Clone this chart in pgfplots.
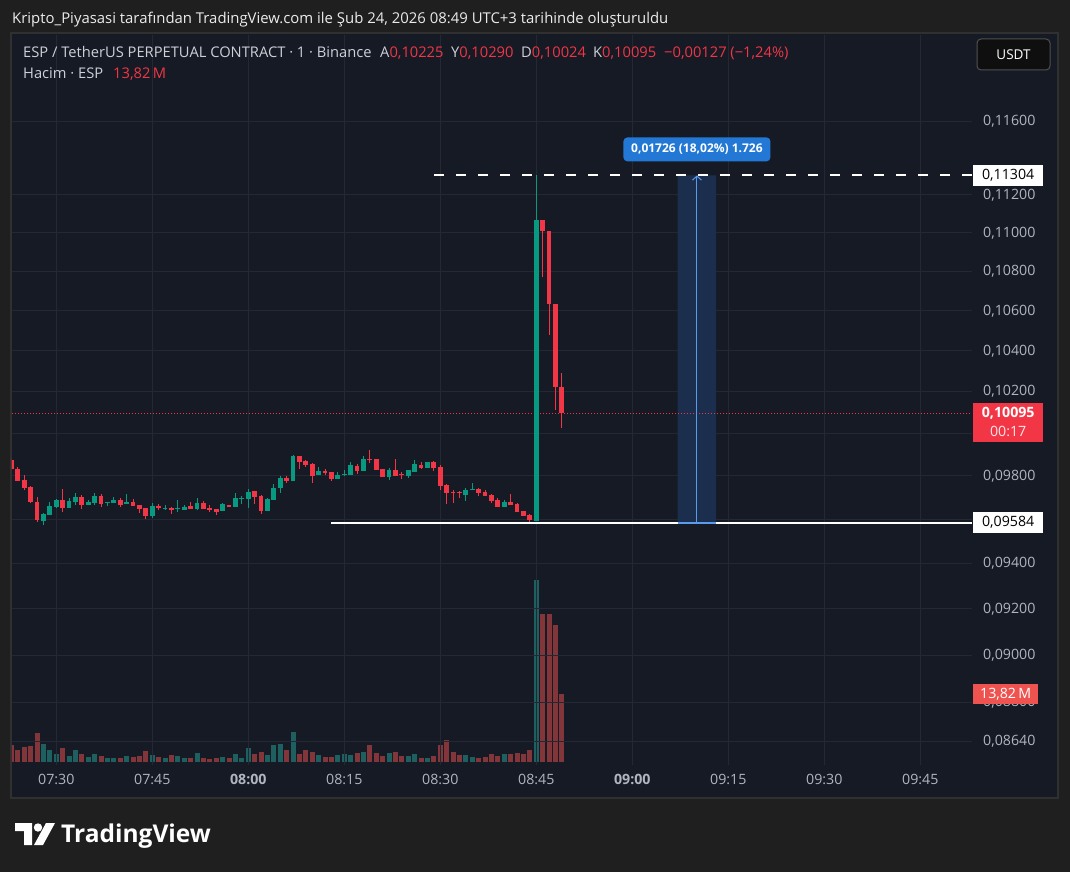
\documentclass[border=0pt]{standalone}
\usepackage{fontspec}
\setmainfont{Open Sans}
\usepackage{pgfplots}
\usepackage{pgfplotstable}
\pgfplotsset{compat=1.18}
\usetikzlibrary{arrows.meta}

\definecolor{outerbg}{RGB}{31,31,31}
\definecolor{panelbg}{RGB}{22,26,37}
\definecolor{panelborder}{RGB}{48,48,48}
\definecolor{gridc}{RGB}{36,40,52}
\definecolor{tvtext}{RGB}{178,181,190}
\definecolor{legtext}{RGB}{205,208,215}
\definecolor{tvred}{RGB}{242,54,69}
\definecolor{tvgreen}{RGB}{8,153,129}
\definecolor{volgreen}{RGB}{30,96,95}
\definecolor{volred}{RGB}{130,54,58}
\definecolor{volbox}{RGB}{239,83,80}
\definecolor{measfill}{RGB}{28,46,78}
\definecolor{measline}{RGB}{90,155,235}
\definecolor{measlabel}{RGB}{34,120,212}
\definecolor{btnfill}{RGB}{15,15,15}
\definecolor{btnborder}{RGB}{80,80,80}

\def\fsz#1{\fontsize{#1pt}{#1pt}\selectfont}

% t = minutes after 07:30; O H L C price; V volume (M)
\pgfplotstableread{
t O H L C V
-7 0.09875 0.09885 0.09828 0.09833 3.45
-6 0.09833 0.09842 0.09777 0.09777 2.44
-5 0.09781 0.09805 0.09735 0.09744 3.05
-4 0.09749 0.09753 0.09674 0.09679 3.25
-3 0.09679 0.09702 0.09587 0.09596 5.89
-2 0.09591 0.09628 0.09573 0.09623 3.66
-1 0.09619 0.09679 0.09619 0.09660 2.44
0 0.09656 0.09693 0.09651 0.09688 1.63
1 0.09688 0.09739 0.09633 0.09651 2.84
2 0.09651 0.09697 0.09651 0.09684 1.22
3 0.09679 0.09721 0.09665 0.09702 2.44
4 0.09702 0.09711 0.09647 0.09665 1.63
5 0.09665 0.09688 0.09665 0.09679 1.02
6 0.09674 0.09721 0.09665 0.09707 1.63
7 0.09707 0.09716 0.09656 0.09670 1.22
8 0.09674 0.09679 0.09660 0.09679 0.81
9 0.09674 0.09702 0.09674 0.09688 0.81
10 0.09688 0.09697 0.09656 0.09665 0.81
11 0.09670 0.09716 0.09670 0.09679 1.22
12 0.09679 0.09693 0.09660 0.09660 1.02
13 0.09665 0.09665 0.09628 0.09647 1.22
14 0.09651 0.09651 0.09601 0.09614 2.24
15 0.09614 0.09674 0.09605 0.09660 1.42
16 0.09660 0.09670 0.09642 0.09651 1.02
17 0.09647 0.09665 0.09642 0.09651 0.81
18 0.09651 0.09656 0.09623 0.09642 1.42
19 0.09647 0.09688 0.09633 0.09651 1.22
20 0.09642 0.09665 0.09642 0.09656 0.81
21 0.09660 0.09679 0.09647 0.09647 0.81
22 0.09647 0.09697 0.09642 0.09674 1.83
23 0.09674 0.09684 0.09647 0.09647 0.81
24 0.09651 0.09665 0.09633 0.09642 0.61
25 0.09647 0.09647 0.09619 0.09633 0.81
26 0.09637 0.09674 0.09637 0.09670 1.02
27 0.09665 0.09665 0.09656 0.09656 0.81
28 0.09656 0.09721 0.09656 0.09697 1.63
29 0.09693 0.09707 0.09670 0.09697 0.81
30 0.09693 0.09739 0.09651 0.09725 2.84
31 0.09730 0.09730 0.09670 0.09702 1.63
32 0.09707 0.09711 0.09623 0.09637 2.03
33 0.09637 0.09697 0.09637 0.09693 1.42
34 0.09688 0.09763 0.09688 0.09744 3.45
35 0.09744 0.09800 0.09721 0.09791 3.66
36 0.09791 0.09800 0.09767 0.09777 2.44
37 0.09777 0.09899 0.09777 0.09894 6.10
38 0.09894 0.09894 0.09833 0.09866 1.63
39 0.09871 0.09875 0.09842 0.09852 2.44
40 0.09856 0.09861 0.09767 0.09800 2.03
41 0.09805 0.09842 0.09805 0.09824 1.42
42 0.09824 0.09833 0.09805 0.09814 1.02
43 0.09819 0.09819 0.09777 0.09786 1.02
44 0.09786 0.09819 0.09786 0.09805 1.42
45 0.09805 0.09828 0.09800 0.09809 1.63
46 0.09805 0.09866 0.09805 0.09852 1.42
47 0.09847 0.09856 0.09809 0.09824 1.83
48 0.09824 0.09894 0.09824 0.09880 2.03
49 0.09880 0.09923 0.09861 0.09875 3.45
50 0.09880 0.09880 0.09828 0.09828 1.83
51 0.09833 0.09833 0.09795 0.09795 1.22
52 0.09795 0.09838 0.09781 0.09828 1.83
53 0.09828 0.09880 0.09800 0.09800 2.03
54 0.09809 0.09819 0.09786 0.09805 1.22
55 0.09800 0.09828 0.09791 0.09828 1.22
56 0.09819 0.09875 0.09819 0.09856 1.63
57 0.09852 0.09866 0.09833 0.09838 0.81
58 0.09838 0.09866 0.09838 0.09866 0.81
59 0.09866 0.09871 0.09824 0.09838 1.22
60 0.09842 0.09852 0.09735 0.09753 3.45
61 0.09758 0.09763 0.09670 0.09721 4.47
62 0.09725 0.09735 0.09674 0.09721 2.03
63 0.09725 0.09730 0.09697 0.09721 1.42
64 0.09711 0.09744 0.09684 0.09735 1.42
65 0.09735 0.09767 0.09735 0.09739 1.02
66 0.09739 0.09744 0.09707 0.09721 0.81
67 0.09725 0.09735 0.09707 0.09707 1.02
68 0.09711 0.09716 0.09674 0.09684 1.63
69 0.09688 0.09697 0.09656 0.09656 1.22
70 0.09656 0.09688 0.09656 0.09679 1.63
71 0.09679 0.09716 0.09665 0.09665 1.63
72 0.09670 0.09674 0.09633 0.09633 1.83
73 0.09637 0.09637 0.09614 0.09614 1.63
74 0.09619 0.09623 0.09584 0.09596 2.44
75 0.09592 0.11304 0.09590 0.11066 36.98
76 0.11066 0.11066 0.10770 0.11010 30.07
77 0.11010 0.11010 0.10480 0.10632 30.07
78 0.10632 0.10632 0.10111 0.10225 27.84
79 0.10225 0.10290 0.10024 0.10095 13.82
}\candles

\newcommand\getcandle[1]{%
  \pgfplotstablegetelem{#1}{t}\of\candles \let\candT\pgfplotsretval
  \pgfplotstablegetelem{#1}{O}\of\candles \let\candO\pgfplotsretval
  \pgfplotstablegetelem{#1}{H}\of\candles \let\candH\pgfplotsretval
  \pgfplotstablegetelem{#1}{L}\of\candles \let\candL\pgfplotsretval
  \pgfplotstablegetelem{#1}{C}\of\candles \let\candC\pgfplotsretval
  \pgfplotstablegetelem{#1}{V}\of\candles \let\candV\pgfplotsretval
  \pgfmathtruncatemacro\candUp{\candC>=\candO}%
}

\begin{document}
\begin{tikzpicture}
\begin{scope}[x=1pt,y=-1pt]
  \fill[outerbg] (0,0) rectangle (1070,872);
  \fill[panelbg] (12,34) rectangle (1057,797);
  \draw[panelborder, line width=2pt] (11,33) rectangle (1058,798);
\end{scope}

% ---------- volume pane ----------
\begin{axis}[at={(12pt,-765pt)}, anchor=south west, width=960pt, height=730pt,
  scale only axis, hide axis, xmin=-6.92, xmax=143.08, ymin=-0.61, ymax=147.73]
  \pgfplotsforeachungrouped \i in {0,...,86}{%
    \getcandle{\i}%
    \ifnum\candUp=1 \def\vcol{volgreen}\else\def\vcol{volred}\fi
    \edef\temp{\noexpand\addplot[draw=\vcol, line width=5pt, forget plot]
      coordinates {(\candT,0) (\candT,\candV)};}%
    \temp
  }
  \coordinate (volbox) at (axis cs:143.08,13.82);
\end{axis}

% ---------- price pane ----------
\begin{axis}[at={(12pt,-765pt)}, anchor=south west, width=960pt, height=730pt,
  scale only axis, xmin=-6.92, xmax=143.08,
  ymode=log, ymin=0.085420, ymax=0.120838,
  axis line style={draw=none}, major tick length=0pt, tick style={draw=none},
  clip mode=individual,
  xtick={0,15,...,135},
  xticklabels={07:30,07:45,\textbf{08:00},08:15,08:30,08:45,\textbf{09:00},09:15,09:30,09:45},
  ytick={0.116,0.112,0.110,0.108,0.106,0.104,0.102,0.100,0.098,0.096,0.094,0.092,0.090,0.088,0.0864},
  yticklabels={{0,11600},{0,11200},{0,11000},{0,10800},{0,10600},{0,10400},{0,10200},{},{0,09800},{},{0,09400},{0,09200},{0,09000},{0,08800},{0,08640}},
  yticklabel pos=right,
  grid=major, major grid style={draw=gridc, line width=1pt},
  ticklabel style={font=\fsz{14.2}, text=tvtext},
  xticklabel style={anchor=center, yshift=-14pt, inner sep=0pt},
  yticklabel style={anchor=west, xshift=11pt, inner sep=0pt},
]
  % measurement tool
  \addplot[fill=measfill, draw=none] coordinates {(97.1,0.09584) (103.1,0.09584) (103.1,0.11304) (97.1,0.11304) (97.1,0.09584)};
  % last price dotted line
  \addplot[tvred, line width=1pt, dash pattern=on 1pt off 2pt] coordinates {(-6.92,0.10095) (143.08,0.10095)};
  % candles
  \pgfplotsforeachungrouped \i in {0,...,86}{%
    \getcandle{\i}%
    \ifnum\candUp=1 \def\ccol{tvgreen}\else\def\ccol{tvred}\fi
    \edef\temp{\noexpand\addplot[draw=\ccol, line width=1pt, forget plot]
        coordinates {(\candT,\candL) (\candT,\candH)};
      \noexpand\addplot[draw=\ccol, line width=4.8pt, forget plot]
        coordinates {(\candT,\candO) (\candT,\candC)};}%
    \temp
  }
  % high / low lines
  \addplot[white, line width=2pt, dash pattern=on 10pt off 12pt] coordinates {(59.0,0.11304) (143.08,0.11304)};
  \addplot[white, line width=2pt] coordinates {(42.9,0.09584) (143.08,0.09584)};
  \addplot[measline, line width=1.5pt] coordinates {(97.1,0.09584) (103.1,0.09584)};
  \addplot[measline, line width=1pt, -{Straight Barb[length=4pt,width=9pt]}] coordinates {(100.1,0.09584) (100.1,0.11304)};
  \coordinate (hi) at (axis cs:143.08,0.11304);
  \coordinate (lo) at (axis cs:143.08,0.09584);
  \coordinate (last) at (axis cs:143.08,0.10095);
  \coordinate (meas) at (axis cs:100.1,0.11304);
\end{axis}

% ---------- price scale labels ----------
\node[anchor=west, fill=white, text=black, minimum width=70pt, minimum height=21pt, inner sep=0pt, font=\fsz{14.2}] at ([xshift=1pt]hi) {0,11304};
\node[anchor=west, fill=white, text=black, minimum width=70pt, minimum height=21pt, inner sep=0pt, font=\fsz{14.2}] at ([xshift=1pt]lo) {0,09584};
\node[anchor=north west, fill=tvred, minimum width=70pt, minimum height=39pt, inner sep=0pt] (lastbox) at ([xshift=1pt, yshift=10.5pt]last) {};
\node[text=white, font=\bfseries\fsz{14.2}] at ([yshift=-10pt]lastbox.north) {0,10095};
\node[text=white!88!tvred, font=\fsz{14.2}] at ([yshift=-29pt]lastbox.north) {00:17};
\node[anchor=west, fill=volbox, text=white, minimum width=65pt, minimum height=20pt, inner sep=0pt, font=\fsz{14.2}] at ([xshift=1pt]volbox) {13,82\,M};
\node[fill=measlabel, text=white, rounded corners=4pt, minimum width=147pt, minimum height=24pt, inner sep=0pt, font=\bfseries\fsz{12}] at ([yshift=26pt]meas) {0,01726 (18,02\%) 1.726};

\begin{scope}[x=1pt,y=-1pt]
  % title
  \node[anchor=base west, inner sep=0pt, text=white!92!black, font=\fsz{14.9}] at (12,24)
    {Kripto\_Piyasasi tarafından TradingView.com ile Şub 24, 2026 08:49 UTC+3 tarihinde oluşturuldu};
  % legend
  \node[anchor=base west, inner sep=0pt, text=legtext, font=\fsz{14.7}] at (23,58)
    {ESP / TetherUS PERPETUAL CONTRACT · 1 · Binance};
  \node[anchor=base west, inner sep=0pt, font=\fsz{14.7}] at (380,58) {\textcolor{legtext}{A}\textcolor{tvred}{0,10225}};
  \node[anchor=base west, inner sep=0pt, font=\fsz{14.7}] at (451,58) {\textcolor{legtext}{Y}\textcolor{tvred}{0,10290}};
  \node[anchor=base west, inner sep=0pt, font=\fsz{14.7}] at (521,58) {\textcolor{legtext}{D}\textcolor{tvred}{0,10024}};
  \node[anchor=base west, inner sep=0pt, font=\fsz{14.7}] at (593,58) {\textcolor{legtext}{K}\textcolor{tvred}{0,10095}};
  \node[anchor=base west, inner sep=0pt, text=tvred, font=\fsz{14.7}] at (664,58) {−0,00127 (−1,24\%)};
  \node[anchor=base west, inner sep=0pt, text=legtext, font=\fsz{14.7}] at (23,79) {Hacim · ESP};
  \node[anchor=base west, inner sep=0pt, text=tvred, font=\fsz{14.7}] at (113,79) {13,82\,M};
  % USDT button
  \draw[fill=btnfill, draw=btnborder, line width=1pt, rounded corners=4pt] (977,39) rectangle (1050,70);
  \node[text=white, font=\fsz{13.5}] at (1013.5,54.5) {USDT};
  % TradingView logo
  \fill[white] (15,823) -- (32,823) -- (32,845) -- (24,845) -- (24,831) -- (15,831) -- cycle;
  \fill[white] (38,827.5) circle (4.2);
  \fill[white] (34,845) -- (43,845) -- (55,823) -- (46,823) -- cycle;
  \node[anchor=base west, inner sep=0pt, text=white, font=\bfseries\fsz{24.5}] at (61,842) {TradingView};
\end{scope}
\pgfresetboundingbox
\path[use as bounding box] (0pt,0pt) rectangle (1070pt,-872pt);
\end{tikzpicture}
\end{document}
